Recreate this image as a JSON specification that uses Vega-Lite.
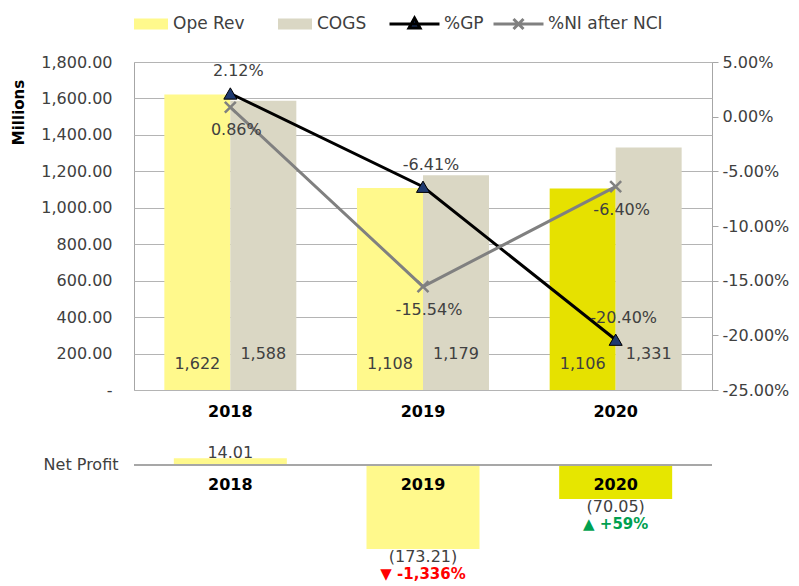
{
  "$schema": "https://vega.github.io/schema/vega-lite/v6.json",
  "background": "#ffffff",
  "padding": {"left": 10, "top": 14, "right": 0, "bottom": 0},
  "spacing": 20,
  "config": {"font": "DejaVu Sans", "view": {"stroke": null}},
  "datasets": {
    "bars": [
      {"year": "2018", "series": "Ope Rev", "value": 1622},
      {"year": "2018", "series": "COGS", "value": 1588},
      {"year": "2019", "series": "Ope Rev", "value": 1108},
      {"year": "2019", "series": "COGS", "value": 1179},
      {"year": "2020", "series": "Ope Rev", "value": 1106},
      {"year": "2020", "series": "COGS", "value": 1331}
    ],
    "ratios": [
      {"year": "2018", "series": "%GP", "value": 0.0212},
      {"year": "2019", "series": "%GP", "value": -0.0641},
      {"year": "2020", "series": "%GP", "value": -0.204},
      {"year": "2018", "series": "%NI after NCI", "value": 0.0086},
      {"year": "2019", "series": "%NI after NCI", "value": -0.1554},
      {"year": "2020", "series": "%NI after NCI", "value": -0.064}
    ],
    "np": [
      {"year": "2018", "value": 14.01, "change": null},
      {"year": "2019", "value": -173.21, "change": -13.36},
      {"year": "2020", "value": -70.05, "change": 0.59}
    ]
  },
  "vconcat": [
    {
      "width": 578,
      "height": 328,
      "view": {"stroke": "#A6A6A6", "strokeWidth": 1},
      "encoding": {
        "x": {"field": "year", "type": "nominal",
          "scale": {"paddingInner": 0.315, "paddingOuter": 0.1575},
          "axis": {"title": null, "labelAngle": 0, "labelFontSize": 16, "labelFontWeight": "bold", "labelColor": "#000000", "ticks": false, "domain": false, "labelPadding": 13}}
      },
      "layer": [
        {
          "data": {"name": "bars"},
          "encoding": {
            "y": {"field": "value", "type": "quantitative",
              "scale": {"domain": [0, 1800], "nice": false},
              "axis": {"orient": "left", "values": [0, 200, 400, 600, 800, 1000, 1200, 1400, 1600, 1800],
                "labelExpr": "datum.value === 0 ? '-' : format(datum.value, ',.2f')",
                "grid": true, "gridColor": "#B4B4B4", "domain": false, "ticks": false,
                "labelFontSize": 16, "labelColor": "#404040", "labelPadding": 22,
                "title": "Millions", "titleFontSize": 15, "titleFontWeight": "bold", "titleColor": "#000000",
                "titleAngle": -90, "titleX": -116, "titleY": 50, "titleAlign": "center", "titleBaseline": "middle"}},
            "xOffset": {"field": "series", "type": "nominal", "scale": {"domain": ["Ope Rev", "COGS"], "paddingInner": 0, "paddingOuter": 0}}
          },
          "layer": [
            {
              "mark": {"type": "bar"},
              "encoding": {
                "fill": {"field": "series", "type": "nominal",
                  "condition": {"test": "datum.year === '2020' && datum.series === 'Ope Rev'", "value": "#E6E100"},
                  "scale": {"domain": ["Ope Rev", "COGS"], "range": ["#FFF98C", "#DAD7C4"]},
                  "legend": {
                    "orient": "none", "legendX": -16, "legendY": -48, "direction": "horizontal",
                    "title": null, "symbolType": "M-0.36,-0.22H1V0.22H-0.36Z", "symbolSize": 2500, "clipHeight": 20,
                    "labelFontSize": 17, "labelColor": "#404040", "labelOffset": 5, "columnPadding": 17,
                    "symbolStrokeWidth": 0, "symbolOpacity": 1
                  }
                }
              }
            },
            {
              "transform": [{"filter": "datum.series === 'Ope Rev'"}],
              "mark": {"type": "text", "fontSize": 16, "color": "#404040"},
              "encoding": {"y": {"datum": 140, "type": "quantitative"}, "text": {"field": "value", "format": ",.0f"}}
            },
            {
              "transform": [{"filter": "datum.series === 'COGS'"}],
              "mark": {"type": "text", "fontSize": 16, "color": "#404040"},
              "encoding": {"y": {"datum": 200, "type": "quantitative"}, "text": {"field": "value", "format": ",.0f"}}
            }
          ]
        },
        {
          "data": {"name": "ratios"},
          "encoding": {
            "y": {"field": "value", "type": "quantitative",
              "scale": {"domain": [-0.25, 0.05], "nice": false, "zero": false},
              "axis": {"orient": "right", "values": [-0.25, -0.2, -0.15, -0.1, -0.05, 0, 0.05],
                "labelExpr": "replace(format(datum.value, '.2%'), '\u2212', '-')",
                "grid": false, "domain": false, "ticks": true, "tickSize": 6, "tickColor": "#A6A6A6",
                "labelFontSize": 16, "labelColor": "#404040", "labelPadding": 4, "title": null}}
          },
          "layer": [
            {
              "mark": {"type": "line", "strokeWidth": 3},
              "encoding": {"stroke": {"field": "series", "type": "nominal",
                "scale": {"domain": ["%GP", "%NI after NCI"], "range": ["#000000", "#808080"]},
                "legend": {
                    "orient": "none", "legendX": 254, "legendY": -48, "direction": "horizontal",
                    "title": null, "symbolSize": 2500, "clipHeight": 20,
                    "labelFontSize": 17, "labelColor": "#404040", "labelOffset": 3, "columnPadding": 8,
                    "symbolStrokeWidth": 3, "symbolOpacity": 1
                  }}}
            },
            {
              "mark": {"type": "point", "filled": true, "fill": "#1F3A70", "opacity": 0, "strokeWidth": 3},
              "encoding": {
                "stroke": {"field": "series", "type": "nominal",
                  "scale": {"domain": ["%GP", "%NI after NCI"], "range": ["#000000", "#808080"]},
                  "legend": {
                    "orient": "none", "legendX": 254, "legendY": -48, "direction": "horizontal",
                    "title": null, "symbolSize": 2500, "clipHeight": 20,
                    "labelFontSize": 17, "labelColor": "#404040", "labelOffset": 3, "columnPadding": 8,
                    "symbolStrokeWidth": 3, "symbolOpacity": 1
                  }},
                "shape": {"field": "series", "type": "nominal",
                  "scale": {"domain": ["%GP", "%NI after NCI"], "range": ["M-1,0H1M0,-0.24L0.22,0.16L-0.22,0.16Z", "M-1,0H1M-0.2,-0.2L0.2,0.2M-0.2,0.2L0.2,-0.2"]},
                  "legend": {
                    "orient": "none", "legendX": 254, "legendY": -48, "direction": "horizontal",
                    "title": null, "symbolSize": 2500, "clipHeight": 20,
                    "labelFontSize": 17, "labelColor": "#404040", "labelOffset": 3, "columnPadding": 8,
                    "symbolStrokeWidth": 3, "symbolOpacity": 1
                  }}
              }
            },
            {
              "transform": [{"filter": "datum.series === '%GP'"}],
              "mark": {"type": "point", "shape": "triangle-up", "filled": true, "fill": "#1F3A70", "stroke": "#000000", "strokeWidth": 1, "size": 170, "opacity": 1}
            },
            {
              "transform": [{"filter": "datum.series === '%NI after NCI'"}],
              "mark": {"type": "point", "shape": "M-1,-1L1,1M-1,1L1,-1", "filled": false, "stroke": "#808080", "strokeWidth": 2.5, "size": 120, "opacity": 1}
            },
            {
              "transform": [{"filter": "datum.series === '%GP'"}],
              "mark": {"type": "text", "fontSize": 16, "color": "#404040", "dy": -22, "dx": 8, "text": {"expr": "replace(format(datum.value, '.2%'), '\u2212', '-')"}}
            },
            {
              "transform": [{"filter": "datum.series === '%NI after NCI'"}],
              "mark": {"type": "text", "fontSize": 16, "color": "#404040", "dy": 23, "dx": 6, "text": {"expr": "replace(format(datum.value, '.2%'), '\u2212', '-')"}}
            }
          ]
        }
      ],
      "resolve": {"scale": {"y": "independent"}}
    },
    {
      "width": 578,
      "height": 140,
      "data": {"name": "np"},
      "layer": [
        {
          "mark": {"type": "bar", "size": 113},
          "encoding": {
            "x": {"field": "year", "type": "nominal", "scale": {"paddingInner": 0.315, "paddingOuter": 0.1575}, "axis": null},
            "y": {"field": "value", "type": "quantitative", "scale": {"domain": [-237, 51.5], "nice": false},
              "axis": {"values": [0], "labelExpr": "'Net Profit'", "ticks": false, "domain": false, "grid": false, "title": null,
                "labelFontSize": 16, "labelColor": "#404040", "labelPadding": 16}},
            "color": {"condition": {"test": "datum.year === '2020'", "value": "#E6E600"}, "value": "#FFF98C"}
          }
        },
        {
          "mark": {"type": "rule", "color": "#A6A6A6", "strokeWidth": 1.5},
          "encoding": {"y": {"datum": 0, "type": "quantitative"}}
        },
        {
          "mark": {"type": "text", "fontSize": 16, "fontWeight": "bold", "color": "#000000", "dy": 20},
          "encoding": {
            "x": {"field": "year", "type": "nominal"},
            "y": {"datum": 0, "type": "quantitative"},
            "text": {"field": "year"}
          }
        },
        {
          "transform": [{"filter": "datum.value > 0"}],
          "mark": {"type": "text", "fontSize": 16, "color": "#404040", "baseline": "bottom", "dy": 3},
          "encoding": {
            "x": {"field": "year", "type": "nominal"},
            "y": {"field": "value", "type": "quantitative"},
            "text": {"field": "value", "format": "(,.2f"}
          }
        },
        {
          "transform": [{"filter": "datum.value < 0"}],
          "mark": {"type": "text", "fontSize": 16, "color": "#404040", "baseline": "top", "dy": 0},
          "encoding": {
            "x": {"field": "year", "type": "nominal"},
            "y": {"field": "value", "type": "quantitative"},
            "text": {"field": "value", "format": "(,.2f"}
          }
        },
        {
          "transform": [{"filter": "datum.change !== null"}],
          "mark": {"type": "text", "fontSize": 15, "fontWeight": "bold", "baseline": "top", "dy": 18,
            "text": {"expr": "(datum.change < 0 ? '\u25BC ' : '\u25B2 ') + replace(format(datum.change, '+,.0%'), '\u2212', '-')"}},
          "encoding": {
            "x": {"field": "year", "type": "nominal"},
            "y": {"field": "value", "type": "quantitative"},
            "color": {"condition": {"test": "datum.change < 0", "value": "#FF0000"}, "value": "#00A050"}
          }
        }
      ]
    }
  ]
}
